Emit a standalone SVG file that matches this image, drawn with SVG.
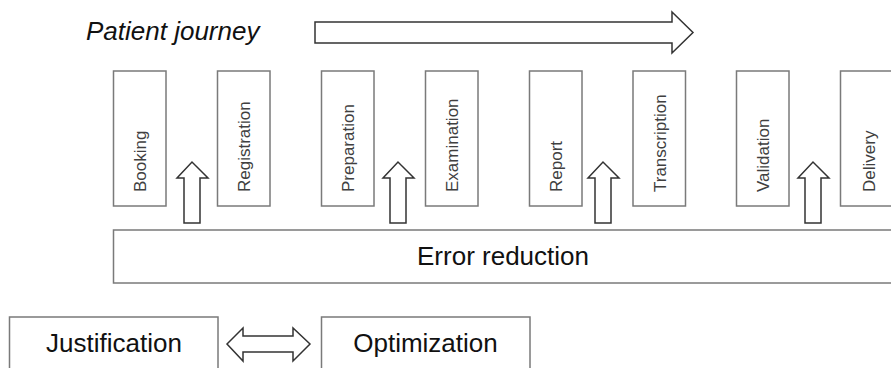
<svg xmlns="http://www.w3.org/2000/svg" width="891" height="368" viewBox="0 0 891 368">
<style>
.box{fill:#fff;stroke:#7a7a7a;stroke-width:1.5}
.arr{fill:#fff;stroke:#333;stroke-width:1.5;stroke-linejoin:miter}
.vt{font-family:"Liberation Sans",Arial,sans-serif;font-size:17px;fill:#404040}
.bt{font-family:"Liberation Sans",Arial,sans-serif;font-size:26px;fill:#111;text-anchor:middle}
</style>
<defs>
<path id="up" d="M-8,61 L-8,16 L-15,16 L0,0 L16,16 L8,16 L8,61 Z"/>
</defs>
<rect width="891" height="368" fill="#fff"/>
<text x="86" y="40" style="font-family:'Liberation Sans',Arial,sans-serif;font-size:26px;font-style:italic;fill:#111">Patient journey</text>
<g id="connectors">
<path class="arr" d="M315,22 L672,22 L672,12 L693,32.5 L672,53 L672,43 L315,43 Z"/>
<use href="#up" class="arr" transform="translate(192,162)"/>
<use href="#up" class="arr" transform="translate(398,162)"/>
<use href="#up" class="arr" transform="translate(603,162)"/>
<use href="#up" class="arr" transform="translate(813,162)"/>
<path class="arr" d="M227,344 L243,328 L243,336 L293,336 L293,328 L310,344 L293,361 L293,352 L243,352 L243,361 Z"/>
</g>
<g id="booking"><rect class="box" x="113.5" y="71" width="52.5" height="135"/><text class="vt" transform="translate(146,192) rotate(-90)">Booking</text></g>
<g id="registration"><rect class="box" x="217.5" y="71" width="52.5" height="135"/><text class="vt" transform="translate(250,192) rotate(-90)">Registration</text></g>
<g id="preparation"><rect class="box" x="321.5" y="71" width="52.5" height="135"/><text class="vt" transform="translate(354,192) rotate(-90)">Preparation</text></g>
<g id="examination"><rect class="box" x="425.5" y="71" width="52.5" height="135"/><text class="vt" transform="translate(458,192) rotate(-90)">Examination</text></g>
<g id="report"><rect class="box" x="529.5" y="71" width="52.5" height="135"/><text class="vt" transform="translate(562,192) rotate(-90)">Report</text></g>
<g id="transcription"><rect class="box" x="633" y="71" width="52.5" height="135"/><text class="vt" transform="translate(665.5,192) rotate(-90)">Transcription</text></g>
<g id="validation"><rect class="box" x="736.5" y="71" width="52.5" height="135"/><text class="vt" transform="translate(769,192) rotate(-90)">Validation</text></g>
<g id="delivery"><rect class="box" x="840.5" y="71" width="54" height="135"/><text class="vt" transform="translate(875,192) rotate(-90)">Delivery</text></g>
<g id="error-reduction"><rect class="box" x="113.5" y="230" width="782" height="53"/><text class="bt" x="503" y="265">Error reduction</text></g>
<g id="justification"><rect class="box" x="9.5" y="317" width="208.5" height="60"/><text class="bt" x="114" y="352">Justification</text></g>
<g id="optimization"><rect class="box" x="321.5" y="317" width="208.5" height="60"/><text class="bt" x="425.5" y="352">Optimization</text></g>
</svg>
